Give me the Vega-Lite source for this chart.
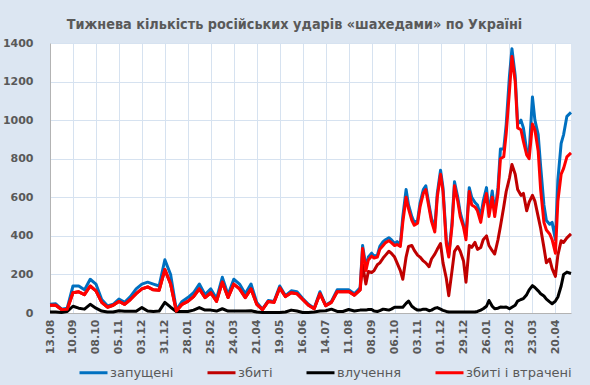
{
  "$schema": "https://vega.github.io/schema/vega-lite/v6.json",
  "width": 521,
  "height": 270,
  "autosize": {"type": "none"},
  "padding": {"left": 50, "top": 43, "right": 19, "bottom": 72},
  "background": "#dce6f2",
  "view": {"fill": "white", "stroke": null},
  "title": {"text": "Тижнева кількість російських ударів «шахедами» по Україні", "font": "DejaVu Sans Condensed, Liberation Sans, sans-serif", "fontSize": 14.3, "fontWeight": "bold", "color": "#595959", "anchor": "middle", "dx": -16, "offset": 5},
  "data": {"values": [
    {"d":"2023-08-13","a":46,"b":40,"c":5,"e":40},
    {"d":"2023-08-20","a":48,"b":40,"c":5,"e":40},
    {"d":"2023-08-27","a":20,"b":18,"c":3,"e":18},
    {"d":"2023-09-03","a":25,"b":20,"c":8,"e":20},
    {"d":"2023-09-10","a":140,"b":105,"c":35,"e":105},
    {"d":"2023-09-17","a":140,"b":110,"c":25,"e":110},
    {"d":"2023-09-24","a":120,"b":95,"c":20,"e":95},
    {"d":"2023-10-01","a":175,"b":140,"c":45,"e":140},
    {"d":"2023-10-08","a":150,"b":115,"c":25,"e":115},
    {"d":"2023-10-15","a":70,"b":55,"c":10,"e":55},
    {"d":"2023-10-22","a":37,"b":30,"c":5,"e":30},
    {"d":"2023-10-29","a":45,"b":40,"c":5,"e":40},
    {"d":"2023-11-05","a":72,"b":60,"c":12,"e":60},
    {"d":"2023-11-12","a":55,"b":45,"c":9,"e":45},
    {"d":"2023-11-19","a":85,"b":70,"c":9,"e":70},
    {"d":"2023-11-26","a":125,"b":100,"c":9,"e":100},
    {"d":"2023-12-03","a":150,"b":125,"c":28,"e":125},
    {"d":"2023-12-10","a":160,"b":135,"c":10,"e":135},
    {"d":"2023-12-17","a":150,"b":120,"c":8,"e":120},
    {"d":"2023-12-24","a":140,"b":118,"c":10,"e":118},
    {"d":"2023-12-31","a":276,"b":225,"c":55,"e":225},
    {"d":"2024-01-07","a":200,"b":150,"c":30,"e":150},
    {"d":"2024-01-14","a":15,"b":10,"c":8,"e":10},
    {"d":"2024-01-21","a":60,"b":45,"c":8,"e":45},
    {"d":"2024-01-28","a":80,"b":60,"c":8,"e":60},
    {"d":"2024-02-04","a":105,"b":85,"c":15,"e":85},
    {"d":"2024-02-11","a":150,"b":125,"c":28,"e":125},
    {"d":"2024-02-18","a":95,"b":80,"c":15,"e":80},
    {"d":"2024-02-25","a":125,"b":105,"c":15,"e":105},
    {"d":"2024-03-03","a":75,"b":60,"c":10,"e":60},
    {"d":"2024-03-10","a":185,"b":160,"c":22,"e":160},
    {"d":"2024-03-17","a":95,"b":80,"c":10,"e":80},
    {"d":"2024-03-24","a":175,"b":150,"c":10,"e":150},
    {"d":"2024-03-31","a":150,"b":125,"c":10,"e":125},
    {"d":"2024-04-07","a":100,"b":80,"c":10,"e":80},
    {"d":"2024-04-14","a":150,"b":125,"c":12,"e":125},
    {"d":"2024-04-21","a":55,"b":45,"c":5,"e":45},
    {"d":"2024-04-28","a":20,"b":18,"c":2,"e":18},
    {"d":"2024-05-05","a":65,"b":60,"c":3,"e":60},
    {"d":"2024-05-12","a":60,"b":55,"c":3,"e":55},
    {"d":"2024-05-19","a":140,"b":130,"c":3,"e":130},
    {"d":"2024-05-26","a":90,"b":85,"c":5,"e":85},
    {"d":"2024-06-02","a":115,"b":105,"c":15,"e":105},
    {"d":"2024-06-09","a":110,"b":100,"c":10,"e":100},
    {"d":"2024-06-16","a":75,"b":70,"c":3,"e":70},
    {"d":"2024-06-23","a":45,"b":40,"c":3,"e":40},
    {"d":"2024-06-30","a":25,"b":22,"c":5,"e":22},
    {"d":"2024-07-07","a":110,"b":100,"c":10,"e":100},
    {"d":"2024-07-14","a":40,"b":38,"c":12,"e":38},
    {"d":"2024-07-21","a":60,"b":55,"c":20,"e":55},
    {"d":"2024-07-28","a":120,"b":110,"c":8,"e":110},
    {"d":"2024-08-04","a":120,"b":110,"c":8,"e":110},
    {"d":"2024-08-11","a":120,"b":112,"c":18,"e":112},
    {"d":"2024-08-18","a":100,"b":92,"c":10,"e":92},
    {"d":"2024-08-25","a":130,"b":120,"c":15,"e":120},
    {"d":"2024-08-28","a":350,"b":250,"c":15,"e":335},
    {"d":"2024-09-01","a":240,"b":150,"c":15,"e":220},
    {"d":"2024-09-04","a":290,"b":215,"c":18,"e":275},
    {"d":"2024-09-08","a":310,"b":210,"c":18,"e":295},
    {"d":"2024-09-11","a":295,"b":220,"c":10,"e":285},
    {"d":"2024-09-15","a":300,"b":250,"c":8,"e":290},
    {"d":"2024-09-18","a":345,"b":260,"c":12,"e":330},
    {"d":"2024-09-22","a":370,"b":285,"c":20,"e":350},
    {"d":"2024-09-25","a":380,"b":300,"c":18,"e":365},
    {"d":"2024-09-29","a":390,"b":320,"c":15,"e":375},
    {"d":"2024-10-02","a":380,"b":310,"c":20,"e":365},
    {"d":"2024-10-06","a":360,"b":290,"c":30,"e":350},
    {"d":"2024-10-09","a":370,"b":260,"c":30,"e":355},
    {"d":"2024-10-13","a":355,"b":220,"c":30,"e":345},
    {"d":"2024-10-16","a":500,"b":175,"c":30,"e":470},
    {"d":"2024-10-20","a":640,"b":290,"c":50,"e":600},
    {"d":"2024-10-23","a":560,"b":345,"c":62,"e":540},
    {"d":"2024-10-27","a":500,"b":350,"c":35,"e":480},
    {"d":"2024-10-30","a":470,"b":325,"c":25,"e":455},
    {"d":"2024-11-03","a":480,"b":300,"c":15,"e":465},
    {"d":"2024-11-06","a":570,"b":290,"c":15,"e":550},
    {"d":"2024-11-10","a":640,"b":270,"c":20,"e":620},
    {"d":"2024-11-13","a":660,"b":260,"c":20,"e":640},
    {"d":"2024-11-17","a":560,"b":240,"c":12,"e":545},
    {"d":"2024-11-20","a":490,"b":280,"c":15,"e":475},
    {"d":"2024-11-24","a":440,"b":305,"c":25,"e":420},
    {"d":"2024-11-27","a":620,"b":330,"c":28,"e":600},
    {"d":"2024-12-01","a":740,"b":360,"c":20,"e":720},
    {"d":"2024-12-04","a":650,"b":260,"c":14,"e":630},
    {"d":"2024-12-08","a":380,"b":180,"c":8,"e":360},
    {"d":"2024-12-11","a":300,"b":90,"c":5,"e":290},
    {"d":"2024-12-15","a":470,"b":220,"c":5,"e":450},
    {"d":"2024-12-18","a":680,"b":320,"c":5,"e":660},
    {"d":"2024-12-22","a":600,"b":345,"c":5,"e":580},
    {"d":"2024-12-25","a":520,"b":320,"c":5,"e":500},
    {"d":"2024-12-29","a":460,"b":270,"c":5,"e":445},
    {"d":"2025-01-01","a":400,"b":160,"c":5,"e":380},
    {"d":"2025-01-05","a":650,"b":350,"c":5,"e":630},
    {"d":"2025-01-08","a":600,"b":340,"c":5,"e":560},
    {"d":"2025-01-12","a":573,"b":366,"c":5,"e":550},
    {"d":"2025-01-15","a":560,"b":330,"c":8,"e":530},
    {"d":"2025-01-19","a":500,"b":340,"c":15,"e":470},
    {"d":"2025-01-22","a":580,"b":380,"c":22,"e":550},
    {"d":"2025-01-26","a":650,"b":400,"c":35,"e":620},
    {"d":"2025-01-29","a":520,"b":350,"c":65,"e":500},
    {"d":"2025-02-02","a":633,"b":323,"c":35,"e":600},
    {"d":"2025-02-05","a":520,"b":306,"c":22,"e":500},
    {"d":"2025-02-09","a":650,"b":380,"c":25,"e":620},
    {"d":"2025-02-12","a":850,"b":450,"c":31,"e":800},
    {"d":"2025-02-16","a":850,"b":550,"c":30,"e":810},
    {"d":"2025-02-19","a":977,"b":630,"c":31,"e":930},
    {"d":"2025-02-23","a":1230,"b":700,"c":22,"e":1150},
    {"d":"2025-02-26","a":1370,"b":770,"c":30,"e":1330},
    {"d":"2025-03-02","a":1230,"b":720,"c":40,"e":1200},
    {"d":"2025-03-05","a":980,"b":640,"c":62,"e":960},
    {"d":"2025-03-09","a":1000,"b":610,"c":70,"e":950},
    {"d":"2025-03-12","a":960,"b":620,"c":75,"e":890},
    {"d":"2025-03-16","a":840,"b":530,"c":95,"e":820},
    {"d":"2025-03-19","a":830,"b":575,"c":120,"e":800},
    {"d":"2025-03-23","a":1120,"b":610,"c":142,"e":980},
    {"d":"2025-03-26","a":1000,"b":580,"c":132,"e":950},
    {"d":"2025-03-30","a":925,"b":500,"c":115,"e":840},
    {"d":"2025-04-02","a":760,"b":440,"c":100,"e":640},
    {"d":"2025-04-06","a":560,"b":340,"c":88,"e":470},
    {"d":"2025-04-09","a":480,"b":260,"c":72,"e":430},
    {"d":"2025-04-13","a":460,"b":280,"c":58,"e":410},
    {"d":"2025-04-16","a":470,"b":230,"c":48,"e":380},
    {"d":"2025-04-20","a":380,"b":190,"c":62,"e":310},
    {"d":"2025-04-23","a":690,"b":300,"c":83,"e":580},
    {"d":"2025-04-27","a":880,"b":375,"c":140,"e":720},
    {"d":"2025-04-30","a":925,"b":366,"c":200,"e":750},
    {"d":"2025-05-04","a":1020,"b":390,"c":212,"e":810},
    {"d":"2025-05-09","a":1040,"b":410,"c":205,"e":830}
  ]},
  "encoding": {
    "x": {
      "field": "d", "type": "temporal",
      "scale": {"type": "utc", "domain": [{"year": 2023, "month": 8, "date": 13, "utc": true}, {"year": 2025, "month": 5, "date": 9, "utc": true}]},
      "axis": {
        "values": [
          {"year": 2023, "month": 8, "date": 13, "utc": true},
          {"year": 2023, "month": 9, "date": 10, "utc": true},
          {"year": 2023, "month": 10, "date": 8, "utc": true},
          {"year": 2023, "month": 11, "date": 5, "utc": true},
          {"year": 2023, "month": 12, "date": 3, "utc": true},
          {"year": 2023, "month": 12, "date": 31, "utc": true},
          {"year": 2024, "month": 1, "date": 28, "utc": true},
          {"year": 2024, "month": 2, "date": 25, "utc": true},
          {"year": 2024, "month": 3, "date": 24, "utc": true},
          {"year": 2024, "month": 4, "date": 21, "utc": true},
          {"year": 2024, "month": 5, "date": 19, "utc": true},
          {"year": 2024, "month": 6, "date": 16, "utc": true},
          {"year": 2024, "month": 7, "date": 14, "utc": true},
          {"year": 2024, "month": 8, "date": 11, "utc": true},
          {"year": 2024, "month": 9, "date": 8, "utc": true},
          {"year": 2024, "month": 10, "date": 6, "utc": true},
          {"year": 2024, "month": 11, "date": 3, "utc": true},
          {"year": 2024, "month": 12, "date": 1, "utc": true},
          {"year": 2024, "month": 12, "date": 29, "utc": true},
          {"year": 2025, "month": 1, "date": 26, "utc": true},
          {"year": 2025, "month": 2, "date": 23, "utc": true},
          {"year": 2025, "month": 3, "date": 23, "utc": true},
          {"year": 2025, "month": 4, "date": 20, "utc": true}
        ],
        "format": "%d.%m",
        "labelAngle": -90,
        "labelPadding": 6,
        "labelFlush": false,
        "labelOverlap": false,
        "labelBound": false,
        "ticks": false,
        "grid": true,
        "title": null
      }
    }
  },
  "layer": [
    {
      "mark": {"type": "line", "strokeWidth": 3, "strokeJoin": "round"},
      "encoding": {
        "y": {"field": "a", "type": "quantitative", "title": null, "scale": {"domain": [0, 1400]}, "axis": {"values": [0, 200, 400, 600, 800, 1000, 1200, 1400], "format": "d", "labelOverlap": false, "labelPadding": 17, "ticks": false, "title": null}},
        "color": {"datum": "запущені", "type": "nominal", "scale": {"domain": ["запущені", "збиті", "влучення", "збиті і втрачені"], "range": ["#0070c0", "#c00000", "#000000", "#ff0000"]}, "legend": {"title": null, "orient": "none", "legendX": 28, "legendY": 314, "direction": "horizontal"}}
      }
    },
    {
      "mark": {"type": "line", "strokeWidth": 3, "strokeJoin": "round"},
      "encoding": {
        "y": {"field": "b", "type": "quantitative", "title": null, "axis": {"values": [0, 200, 400, 600, 800, 1000, 1200, 1400], "format": "d", "labelOverlap": false, "labelPadding": 17, "ticks": false, "title": null}},
        "color": {"datum": "збиті", "type": "nominal"}
      }
    },
    {
      "mark": {"type": "line", "strokeWidth": 3, "strokeJoin": "round"},
      "encoding": {
        "y": {"field": "c", "type": "quantitative", "title": null, "axis": {"values": [0, 200, 400, 600, 800, 1000, 1200, 1400], "format": "d", "labelOverlap": false, "labelPadding": 17, "ticks": false, "title": null}},
        "color": {"datum": "влучення", "type": "nominal"}
      }
    },
    {
      "mark": {"type": "line", "strokeWidth": 3, "strokeJoin": "round"},
      "encoding": {
        "y": {"field": "e", "type": "quantitative", "title": null, "axis": {"values": [0, 200, 400, 600, 800, 1000, 1200, 1400], "format": "d", "labelOverlap": false, "labelPadding": 17, "ticks": false, "title": null}},
        "color": {"datum": "збиті і втрачені", "type": "nominal"}
      }
    }
  ],
  "config": {
    "font": "DejaVu Sans",
    "axis": {
      "labelFont": "DejaVu Sans",
      "labelFontWeight": "bold",
      "labelFontSize": 11,
      "labelColor": "#595959",
      "gridColor": "#d6e2f0",
      "gridWidth": 1,
      "domainColor": "#b3b3b3",
      "domainWidth": 1
    },
    "legend": {
      "symbolType": "stroke",
      "symbolSize": 784,
      "symbolStrokeWidth": 3,
      "labelFont": "DejaVu Sans",
      "labelFontSize": 13,
      "labelColor": "#595959",
      "columnPadding": 27,
      "labelOffset": 1
    }
  }
}
